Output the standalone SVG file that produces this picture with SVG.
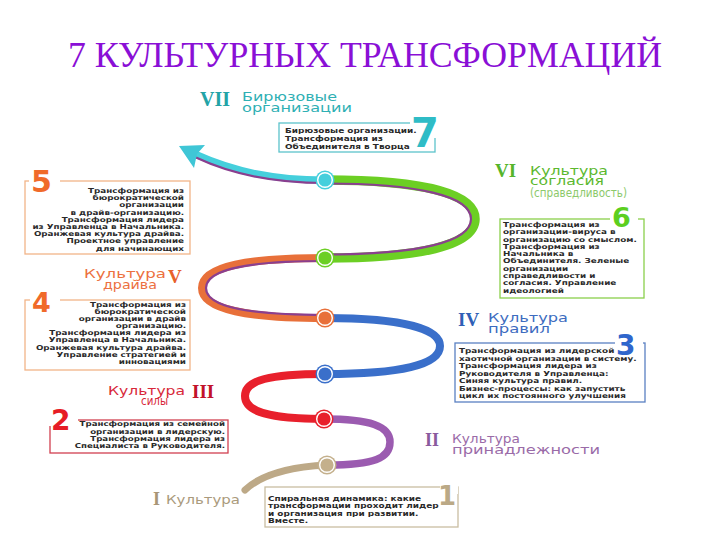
<svg xmlns="http://www.w3.org/2000/svg" width="720" height="540" viewBox="0 0 720 540">
<style>
.title{font-family:"Liberation Serif","Times New Roman",serif;font-size:35px;fill:#8a0fd6}
.body{font-family:"DejaVu Sans",sans-serif;font-weight:bold;font-size:6.8px;fill:#2a2a2a}
.body7{font-family:"DejaVu Sans",sans-serif;font-weight:bold;font-size:7.2px;fill:#2a2a2a}
.lbl{font-family:"DejaVu Sans",sans-serif;font-size:12px}
.rom{font-family:"Liberation Serif","Times New Roman",serif;font-weight:bold}
.num{font-family:"DejaVu Sans",sans-serif;font-weight:bold}
.box{fill:#fff;stroke-width:1.3}
.seg{fill:none;stroke-linecap:round}
.inner{fill:none;stroke:#8a3f8f;stroke-width:2.2}
.ring{fill:none;stroke:#fff;stroke-width:1.4}
</style>
<rect width="720" height="540" fill="#fff"/>
<text class="title" x="68" y="67" textLength="594" lengthAdjust="spacingAndGlyphs">7 КУЛЬТУРНЫХ ТРАНСФОРМАЦИЙ</text>

<g id="connectors">
  <path class="seg" d="M245,490 Q268,468 327,465" stroke="#bda987" stroke-width="7"/>
  <path class="seg" d="M327,465 C375,465 390,458 390,442 C390,426 370,419 324,419" stroke="#9b5bb0" stroke-width="7.5"/>
  <path class="seg" d="M324,419 C270,419 245,412 245,396 C245,380 270,374 325,374" stroke="#e8202c" stroke-width="8"/>
  <path class="seg" d="M325,374 C400,374 440,365 440,346 C440,328 400,318 325,318" stroke="#3a6fca" stroke-width="8"/>
  <path class="seg" d="M325,318 C250,318 202,310 202,288 C202,266 250,258 325,258" stroke="#e8703a" stroke-width="8"/>
  <path class="inner" d="M325,315 C253,315 206,308 206,288 C206,268 253,261 325,261"/>
  <path class="seg" d="M325,258 C420,258 475,245 475,219 C475,193 420,180 325,180" stroke="#6ccf24" stroke-width="9.5"/>
  <path class="inner" d="M325,254.5 C418,254.5 471,242 471,219 C471,196 418,183.5 325,183.5"/>
  <path class="seg" d="M325,180 C275,180 235,172 195,154" stroke="#45cfdc" stroke-width="7"/>
  <path class="inner" d="M325,183 C274,183 233,175 196,157.5"/>
  <polygon points="179,146 205,145 197,154 194,168" fill="#3fc6d6"/>
</g>

<g id="spiral-points">
  <circle cx="325" cy="180" r="9.5" fill="#45cfdc"/><circle class="ring" cx="325" cy="180" r="7.3"/>
  <circle cx="325" cy="258" r="9.5" fill="#6ccf24"/><circle class="ring" cx="325" cy="258" r="7.3"/>
  <circle cx="325" cy="318" r="9.5" fill="#e8703a"/><circle class="ring" cx="325" cy="318" r="7.3"/>
  <circle cx="325" cy="374" r="9.5" fill="#3a6fca"/><circle class="ring" cx="325" cy="374" r="7.3"/>
  <circle cx="324" cy="419" r="9.5" fill="#e8202c"/><circle class="ring" cx="324" cy="419" r="7.3"/>
  <circle cx="327" cy="465" r="9.5" fill="#c4b08c"/><circle class="ring" cx="327" cy="465" r="7.3"/>
</g>

<g id="label-vii">
  <text class="rom" x="200" y="106" font-size="20" fill="#23a3a6">VII</text>
  <text class="lbl" x="242" y="100.5" fill="#2fb0b4" textLength="95" lengthAdjust="spacingAndGlyphs">Бирюзовые</text>
  <text class="lbl" x="242" y="111.5" fill="#2fb0b4" textLength="110" lengthAdjust="spacingAndGlyphs">организации</text>
</g>
<g id="box-7">
  <rect class="box" x="279" y="123" width="156" height="29" stroke="#5cc3cb"/>
  <rect x="410" y="114" width="30" height="24" fill="#fff"/>
  <text class="num" x="411" y="147" font-size="40" fill="#2fbcc6">7</text>
  <g transform="translate(285,0) scale(1.24,1)">
  <text class="body7" x="0" y="133">Бирюзовые организации.</text>
  <text class="body7" x="0" y="141">Трансформация из</text>
  <text class="body7" x="0" y="149">Объединителя в Творца</text>
  </g>
</g>

<g id="label-vi">
  <text class="rom" x="495" y="177" font-size="19" fill="#56b52a">VI</text>
  <text class="lbl" x="530" y="174.5" fill="#5cb82e" textLength="78" lengthAdjust="spacingAndGlyphs">Культура</text>
  <text class="lbl" x="530" y="185" fill="#5cb82e" textLength="74" lengthAdjust="spacingAndGlyphs">согласия</text>
  <text class="lbl" x="530" y="196.5" font-size="8.5" fill="#8cc96a" textLength="97" lengthAdjust="spacingAndGlyphs">(справедливость)</text>
</g>
<g id="box-6">
  <rect class="box" x="500" y="219" width="144" height="79" stroke="#8bd04c"/>
  <rect x="610" y="205" width="28" height="20" fill="#fff"/>
  <text class="num" x="612" y="227" font-size="27" fill="#5ccf1f">6</text>
  <g transform="translate(503,0) scale(1.3,1)">
  <text class="body" x="0" y="227">Трансформация из</text>
  <text class="body" x="0" y="234.3">организации-вируса в</text>
  <text class="body" x="0" y="241.6">организацию со смыслом.</text>
  <text class="body" x="0" y="248.9">Трансформация из</text>
  <text class="body" x="0" y="256.2">Начальника в</text>
  <text class="body" x="0" y="263.5">Объединителя. Зеленые</text>
  <text class="body" x="0" y="270.8">организации</text>
  <text class="body" x="0" y="278.1">справедливости и</text>
  <text class="body" x="0" y="285.4">согласия. Управление</text>
  <text class="body" x="0" y="292.7">идеологией</text>
  </g>
</g>

<g id="box-5">
  <rect class="box" x="25" y="181" width="165" height="73" stroke="#f2b488"/>
  <rect x="29" y="168" width="31" height="18" fill="#fff"/>
  <text class="num" x="31" y="192" font-size="30" fill="#f06a2a">5</text>
  <g transform="translate(184,0) scale(1.29,1)" text-anchor="end">
  <text class="body" x="0" y="193">Трансформация из</text>
  <text class="body" x="0" y="200.2">бюрократической</text>
  <text class="body" x="0" y="207.4">организации</text>
  <text class="body" x="0" y="214.6">в драйв-организацию.</text>
  <text class="body" x="0" y="221.8">Трансформация лидера</text>
  <text class="body" x="0" y="229">из Управленца в Начальника.</text>
  <text class="body" x="0" y="236.2">Оранжевая культура драйва.</text>
  <text class="body" x="0" y="243.4">Проектное управление</text>
  <text class="body" x="0" y="250.6">для начинающих</text>
  </g>
</g>

<g id="label-v">
  <text class="lbl" x="166" y="277.5" fill="#ec7040" text-anchor="end" textLength="82" lengthAdjust="spacingAndGlyphs">Культура</text>
  <text class="lbl" x="157" y="288.5" fill="#ec7040" text-anchor="end" textLength="54" lengthAdjust="spacingAndGlyphs">драйва</text>
  <text class="rom" x="168" y="283" font-size="19" fill="#e8602a">V</text>
</g>
<g id="box-4">
  <rect class="box" x="25" y="300" width="165" height="70" stroke="#f2b488"/>
  <rect x="30" y="290" width="30" height="16" fill="#fff"/>
  <text class="num" x="32" y="312" font-size="27" fill="#f06a2a">4</text>
  <g transform="translate(186,0) scale(1.29,1)" text-anchor="end">
  <text class="body" x="0" y="307">Трансформация из</text>
  <text class="body" x="0" y="314.1">бюрократической</text>
  <text class="body" x="0" y="321.2">организации в драйв</text>
  <text class="body" x="0" y="328.3">организацию.</text>
  <text class="body" x="0" y="335.4">Трансформация лидера из</text>
  <text class="body" x="0" y="342.5">Управленца в Начальника.</text>
  <text class="body" x="0" y="349.6">Оранжевая культура драйва.</text>
  <text class="body" x="0" y="356.7">Управление стратегией и</text>
  <text class="body" x="0" y="363.8">инновациями</text>
  </g>
</g>

<g id="label-iv">
  <text class="rom" x="458" y="326" font-size="19" fill="#2f5fb6">IV</text>
  <text class="lbl" x="488" y="321.5" fill="#3d6cc0" textLength="80" lengthAdjust="spacingAndGlyphs">Культура</text>
  <text class="lbl" x="488" y="332.5" fill="#3d6cc0" textLength="62" lengthAdjust="spacingAndGlyphs">правил</text>
</g>
<g id="box-3">
  <rect class="box" x="455" y="343" width="190" height="59" stroke="#5a80c2"/>
  <rect x="615" y="332" width="28" height="17" fill="#fff"/>
  <text class="num" x="616" y="355" font-size="28" fill="#2f66cc">3</text>
  <g transform="translate(459,0) scale(1.3,1)">
  <text class="body" x="0" y="353.5">Трансформация из лидерской</text>
  <text class="body" x="0" y="361">хаотичной организации в систему.</text>
  <text class="body" x="0" y="368.5">Трансформация лидера из</text>
  <text class="body" x="0" y="376">Руководителя в Управленца:</text>
  <text class="body" x="0" y="383.5">Синяя культура правил.</text>
  <text class="body" x="0" y="391">Бизнес-процессы: как запустить</text>
  <text class="body" x="0" y="398.5">цикл их постоянного улучшения</text>
  </g>
</g>

<g id="label-iii">
  <text class="lbl" x="108" y="394.5" fill="#d8283a" textLength="77" lengthAdjust="spacingAndGlyphs">Культура</text>
  <text class="lbl" x="141" y="405" fill="#d8283a" textLength="27" lengthAdjust="spacingAndGlyphs">силы</text>
  <text class="rom" x="192" y="398" font-size="19" fill="#c2122a">III</text>
</g>
<g id="box-2">
  <rect class="box" x="50" y="420" width="178" height="33" stroke="#d24050"/>
  <rect x="46" y="406" width="32" height="20" fill="#fff"/>
  <text class="num" x="51" y="430" font-size="28" fill="#e61c26">2</text>
  <g transform="translate(225,0) scale(1.27,1)" text-anchor="end">
  <text class="body" x="0" y="426.5">Трансформация из семейной</text>
  <text class="body" x="0" y="433.8">организации в лидерскую.</text>
  <text class="body" x="0" y="441.1">Трансформация лидера из</text>
  <text class="body" x="0" y="448.4">Специалиста в Руководителя.</text>
  </g>
</g>

<g id="label-ii">
  <text class="rom" x="425" y="446" font-size="18" fill="#8a5a9e">II</text>
  <text class="lbl" x="452" y="442.5" fill="#9a6ba8" textLength="68" lengthAdjust="spacingAndGlyphs">Культура</text>
  <text class="lbl" x="452" y="453.5" fill="#9a6ba8" textLength="148" lengthAdjust="spacingAndGlyphs">принадлежности</text>
</g>

<g id="label-i">
  <text class="rom" x="153" y="505" font-size="18" fill="#a89576">I</text>
  <text class="lbl" x="166" y="504" fill="#aa9a7c" textLength="74" lengthAdjust="spacingAndGlyphs">Культура</text>
</g>
<g id="box-1">
  <rect class="box" x="265" y="487" width="193" height="40" stroke="#c9bea2"/>
  <rect x="440" y="482" width="18" height="12" fill="#fff"/>
  <text class="num" x="438" y="505" font-size="26" fill="#bba986">1</text>
  <g transform="translate(268,0) scale(1.24,1)">
  <text class="body7" x="0" y="501">Спиральная динамика: какие</text>
  <text class="body7" x="0" y="508.5">трансформации проходит лидер</text>
  <text class="body7" x="0" y="516">и организация при развитии.</text>
  <text class="body7" x="0" y="523.5">Вместе.</text>
  </g>
</g>
</svg>
